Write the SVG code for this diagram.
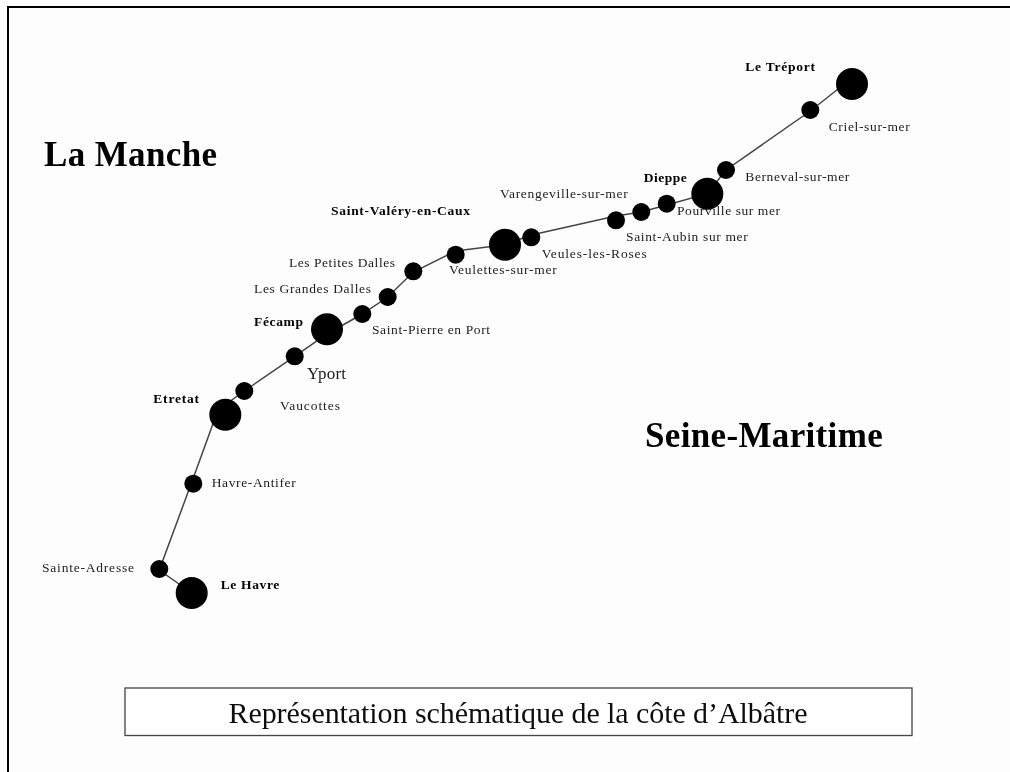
<svg xmlns="http://www.w3.org/2000/svg" width="1010" height="772" viewBox="0 0 1010 772">
<defs><filter id="soft" x="0" y="0" width="1" height="1" filterUnits="objectBoundingBox"><feGaussianBlur stdDeviation="0.4"/></filter></defs>
<style>
text{font-family:"Liberation Serif","Times New Roman",serif;fill:#1c1c1c;font-size:13.5px}
.b{font-weight:bold;fill:#000}
.h{font-weight:bold;font-size:35px;fill:#000}
.t{font-size:30px;fill:#111}
.y{font-size:17px}
.big{fill:#000}
.sm{fill:#000}
.edge{fill:none;stroke:#444;stroke-width:1.5}
</style>
<rect width="1010" height="772" fill="#fdfdfd"/>
<g filter="url(#soft)">
<rect width="1010" height="772" fill="#fdfdfd"/>
<path d="M8 773V7H1011" fill="none" stroke="#000" stroke-width="2"/>
<g id="connectors"><polyline class="edge" points="852,78 810.3,111 726,170 707.3,193.7 666.7,205 641.3,212 616,216 531.3,235 505,244.7 455.7,251 413.3,272 387.7,297 362.3,314 327,334 294.7,356.3 244.3,391 218,410 193.3,478 159.3,570 191.7,593"/></g>
<g id="le-treport"><circle class="big" cx="852" cy="84" r="16"/><text class="b" x="745.3" y="71" textLength="69.7">Le Tréport</text></g>
<g id="criel"><circle class="sm" cx="810.3" cy="110" r="9"/><text x="828.7" y="130.7" textLength="81">Criel-sur-mer</text></g>
<g id="berneval"><circle class="sm" cx="726" cy="170" r="9"/><text x="745.3" y="181" textLength="104">Berneval-sur-mer</text></g>
<g id="dieppe"><circle class="big" cx="707.3" cy="193.7" r="16"/><text class="b" x="643.7" y="181.7" textLength="43">Dieppe</text></g>
<g id="pourville"><circle class="sm" cx="666.7" cy="203.7" r="9"/><text x="677" y="215" textLength="103">Pourville sur mer</text></g>
<g id="saint-aubin"><circle class="sm" cx="641.3" cy="212" r="9"/><text x="626" y="241" textLength="121.7">Saint-Aubin sur mer</text></g>
<g id="varengeville"><circle class="sm" cx="616" cy="220.3" r="9"/><text x="500" y="198" textLength="127.7">Varengeville-sur-mer</text></g>
<g id="veules"><circle class="sm" cx="531.3" cy="237.3" r="9"/><text x="541.7" y="257.7" textLength="105">Veules-les-Roses</text></g>
<g id="saint-valery"><circle class="big" cx="505" cy="244.7" r="16"/><text class="b" x="331" y="215" textLength="139">Saint-Valéry-en-Caux</text></g>
<g id="veulettes"><circle class="sm" cx="455.7" cy="254.7" r="9"/><text x="449" y="274" textLength="107.7">Veulettes-sur-mer</text></g>
<g id="petites-dalles"><circle class="sm" cx="413.3" cy="271.3" r="9"/><text x="289" y="266.7" textLength="106">Les Petites Dalles</text></g>
<g id="grandes-dalles"><circle class="sm" cx="387.7" cy="297" r="9"/><text x="254" y="292.5" textLength="117">Les Grandes Dalles</text></g>
<g id="saint-pierre"><circle class="sm" cx="362.3" cy="314" r="9"/><text x="372" y="334" textLength="118">Saint-Pierre en Port</text></g>
<g id="fecamp"><circle class="big" cx="327" cy="329.3" r="16"/><text class="b" x="254" y="326" textLength="49">Fécamp</text></g>
<g id="yport"><circle class="sm" cx="294.7" cy="356.3" r="9"/><text class="y" x="307" y="379" textLength="39">Yport</text></g>
<g id="vaucottes"><circle class="sm" cx="244.3" cy="391" r="9"/><text x="280" y="410.3" textLength="60">Vaucottes</text></g>
<g id="etretat"><circle class="big" cx="225.3" cy="414.7" r="16"/><text class="b" x="153.3" y="402.7" textLength="45.7">Etretat</text></g>
<g id="havre-antifer"><circle class="sm" cx="193.3" cy="483.7" r="9"/><text x="211.7" y="487" textLength="84">Havre-Antifer</text></g>
<g id="sainte-adresse"><circle class="sm" cx="159.3" cy="569" r="9"/><text x="42" y="572" textLength="92">Sainte-Adresse</text></g>
<g id="le-havre"><circle class="big" cx="191.7" cy="593" r="16"/><text class="b" x="220.7" y="588.7" textLength="58.6">Le Havre</text></g>
<text class="h" x="44" y="165.5" textLength="173">La Manche</text>
<text class="h" x="645" y="447.3" textLength="237.7">Seine-Maritime</text>
<g id="title"><rect x="125" y="688" width="787" height="47.5" fill="#fff" stroke="#444" stroke-width="1.3"/><text class="t" x="228.5" y="723.3" textLength="579">Représentation schématique de la côte d’Albâtre</text></g>
</g>
</svg>
